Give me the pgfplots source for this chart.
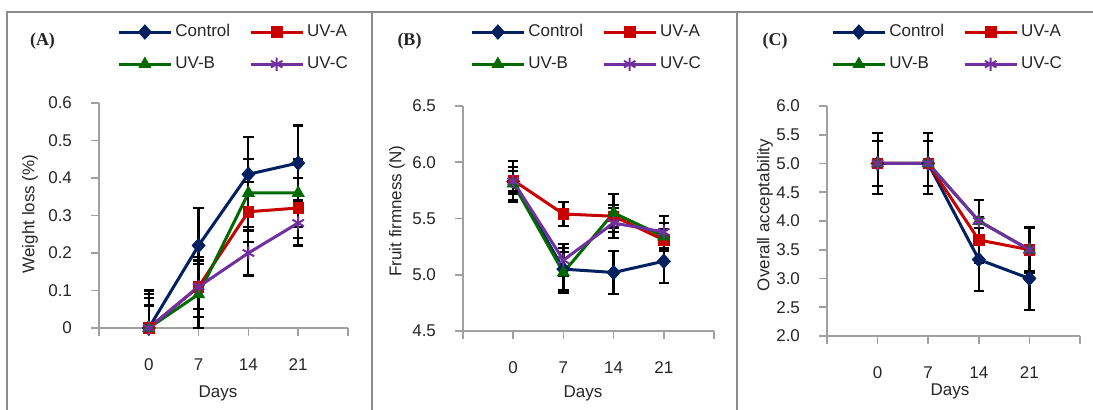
\documentclass[border=0pt]{standalone}
\usepackage{fontspec}
\setmainfont{Liberation Sans}
\newfontfamily\panelfont{Liberation Serif}
\usepackage{pgfplots}
\pgfplotsset{compat=1.18}

\definecolor{cctrl}{HTML}{002060}
\definecolor{cuva}{HTML}{C80000}
\definecolor{cuvb}{HTML}{006A00}
\definecolor{cuvc}{HTML}{7030A0}
\definecolor{axisgray}{HTML}{A0A0A0}
\definecolor{framegray}{HTML}{8C8C8C}

\newcommand{\lbl}{\fontsize{8.5}{10}\selectfont}

\pgfplotsset{
  panel/.style={
    scale only axis, anchor=south west, clip=false,
    xmin=-1, xmax=4, xtick={-1,0,1,2,3,4}, xticklabels={{},0,7,14,21,{}},
    axis x line*=bottom, axis y line*=left,
    axis line style={draw=axisgray, line width=0.8pt},
    tick style={draw=axisgray, line width=0.8pt},
    tick align=outside, major tick length=4pt,
    xticklabel style={yshift=-8pt},
    yticklabel style={xshift=-6pt},
    ticklabel style={font=\lbl, text=black!85},
    label style={font=\lbl, text=black!85},
    /pgf/number format/assume math mode=true,
    xlabel={Days},
    xlabel style={anchor=center}, ylabel style={anchor=center},
    legend columns=2,
    legend style={draw=none, fill=none, font=\lbl, text=black!85,
      inner xsep=0pt, inner ysep=0pt, anchor=south west,
      nodes={inner sep=1.5pt},
      /tikz/every even column/.append style={column sep=8pt},
      row sep=5.5pt},
    legend cell align=left,
    legend image code/.code={\draw[mark repeat=2,mark phase=2,##1,line width=1.5pt]
      plot coordinates {(0pt,0pt) (13pt,0pt) (26pt,0pt)};},
  },
  errs/.style={
    error bars/y dir=both, error bars/y explicit,
    error bars/error bar style={black, line width=1.1pt, solid},
    error bars/error mark options={black, line width=1.1pt, mark size=2.6pt, rotate=90},
  },
  sctrl/.style={cctrl, line width=1.5pt, mark=diamond*, mark size=3.6pt,
    mark options={solid, fill=cctrl, line width=0.4pt, xscale=1.2}, errs},
  suva/.style={cuva, line width=1.5pt, mark=square*, mark size=2.6pt,
    mark options={solid, fill=cuva, line width=0.4pt}, errs},
  suvb/.style={cuvb, line width=1.5pt, mark=triangle*, mark size=3.4pt,
    mark options={solid, fill=cuvb, line width=0.4pt}, errs},
  suvc/.style={cuvc, line width=1.5pt, mark=asterisk, mark size=3.3pt,
    mark options={solid, line width=1pt}, errs},
}

\begin{document}
\begin{tikzpicture}
\useasboundingbox (0,0) rectangle (546.5pt,205pt);
\draw[framegray, line width=0.75pt] (3.6pt,-2pt) -- (3.6pt,199pt) -- (548pt,199pt);
\draw[framegray, line width=0.75pt] (186pt,-2pt) -- (186pt,199pt);
\draw[framegray, line width=0.75pt] (368.5pt,-2pt) -- (368.5pt,199pt);

% (A) weight loss
\begin{axis}[panel, at={(49.5pt,41pt)}, width=124.5pt, height=112.5pt,
  ymin=0, ymax=0.6, ytick={0,0.1,0.2,0.3,0.4,0.5,0.6},
  ylabel={Weight loss (\%)},
  ylabel style={at={(axis description cs:-0.277,0.507)}},
  xlabel style={at={(axis description cs:0.478,-0.289)}},
  legend style={at={(axis description cs:0,1)}, xshift=9pt, yshift=14pt}]
\addplot[sctrl] table[x=x,y=y,y error plus=ep,y error minus=em]{
x y ep em
0 0 0.10 0
1 0.22 0.10 0.10
2 0.41 0.10 0.10
3 0.44 0.10 0.10
};
\addplot[suva] table[x=x,y=y,y error plus=ep,y error minus=em]{
x y ep em
0 0 0.08 0
1 0.11 0.08 0.08
2 0.31 0.08 0.08
3 0.32 0.08 0.08
};
\addplot[suvb] table[x=x,y=y,y error plus=ep,y error minus=em]{
x y ep em
0 0 0.09 0
1 0.09 0.09 0.09
2 0.36 0.09 0.09
3 0.36 0.09 0.09
};
\addplot[suvc] table[x=x,y=y,y error plus=ep,y error minus=em]{
x y ep em
0 0 0.06 0
1 0.11 0.06 0.06
2 0.20 0.06 0.06
3 0.28 0.06 0.06
};
\legend{Control,UV-A,UV-B,UV-C}
\end{axis}

% (B) fruit firmness
\begin{axis}[panel, at={(231.5pt,39.5pt)}, width=125.5pt, height=112.5pt,
  ymin=4.5, ymax=6.5, ytick={4.5,5.0,5.5,6.0,6.5},
  yticklabel style={/pgf/number format/.cd, fixed, fixed zerofill, precision=1},
  ylabel={Fruit firmness (N)},
  ylabel style={at={(axis description cs:-0.263,0.533)}},
  xlabel style={at={(axis description cs:0.478,-0.276)}},
  legend style={at={(axis description cs:0,1)}, xshift=3.5pt, yshift=15.5pt}]
\addplot[sctrl] table[x=x,y=y,y error plus=e,y error minus=e]{
x y e
0 5.83 0.18
1 5.05 0.19
2 5.02 0.19
3 5.12 0.19
};
\addplot[suva] table[x=x,y=y,y error plus=e,y error minus=e]{
x y e
0 5.84 0.12
1 5.54 0.11
2 5.52 0.10
3 5.31 0.10
};
\addplot[suvb] table[x=x,y=y,y error plus=e,y error minus=e]{
x y e
0 5.81 0.15
1 5.02 0.18
2 5.55 0.17
3 5.34 0.12
};
\addplot[suvc] table[x=x,y=y,y error plus=e,y error minus=e]{
x y e
0 5.83 0.09
1 5.13 0.14
2 5.46 0.13
3 5.38 0.14
};
\legend{Control,UV-A,UV-B,UV-C}
\end{axis}

% (C) overall acceptability
\begin{axis}[panel, at={(413.5pt,37pt)}, width=126.5pt, height=115pt,
  ymin=2, ymax=6, ytick={2.0,2.5,3.0,3.5,4.0,4.5,5.0,5.5,6.0},
  yticklabel style={/pgf/number format/.cd, fixed, fixed zerofill, precision=1},
  ylabel={Overall acceptability},
  ylabel style={at={(axis description cs:-0.245,0.526)}},
  xlabel style={at={(axis description cs:0.486,-0.243)}},
  legend style={at={(axis description cs:0,1)}, xshift=2pt, yshift=15.5pt}]
\addplot[sctrl] table[x=x,y=y,y error plus=e,y error minus=e]{
x y e
0 5.0 0.53
1 5.0 0.53
2 3.33 0.55
3 3.0 0.55
};
\addplot[suva] table[x=x,y=y,y error plus=e,y error minus=e]{
x y e
0 5.0 0.39
1 5.0 0.39
2 3.67 0.40
3 3.5 0.40
};
\addplot[suvb] table[x=x,y=y,y error plus=e,y error minus=e]{
x y e
0 5.0 0.53
1 5.0 0.53
2 4.0 0.37
3 3.5 0.40
};
\addplot[suvc] table[x=x,y=y,y error plus=e,y error minus=e]{
x y e
0 5.0 0.39
1 5.0 0.39
2 4.0 0.37
3 3.5 0.38
};
\legend{Control,UV-A,UV-B,UV-C}
\end{axis}

\node[font=\panelfont\bfseries\fontsize{9}{10}\selectfont, text=black!85] at (21.25pt,184.25pt) {(A)};
\node[font=\panelfont\bfseries\fontsize{9}{10}\selectfont, text=black!85] at (204.75pt,184.25pt) {(B)};
\node[font=\panelfont\bfseries\fontsize{9}{10}\selectfont, text=black!85] at (387.5pt,184.5pt) {(C)};
\end{tikzpicture}
\end{document}
